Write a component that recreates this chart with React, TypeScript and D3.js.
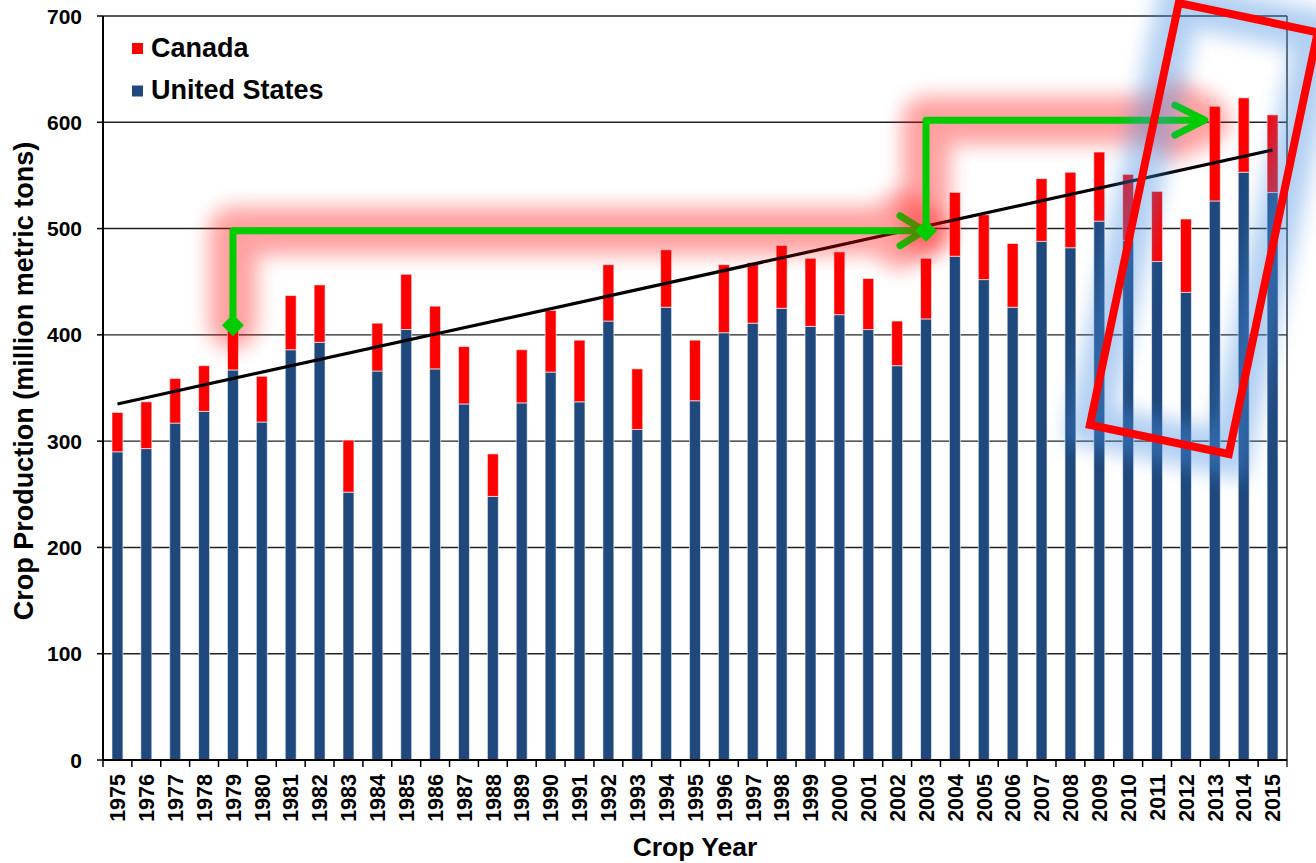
import React from 'react';
import * as d3 from 'd3';

const years = [
  1975, 1976, 1977, 1978, 1979, 1980, 1981, 1982, 1983, 1984,
  1985, 1986, 1987, 1988, 1989, 1990, 1991, 1992, 1993, 1994,
  1995, 1996, 1997, 1998, 1999, 2000, 2001, 2002, 2003, 2004,
  2005, 2006, 2007, 2008, 2009, 2010, 2011, 2012, 2013, 2014, 2015,
];

const usProduction = [
  290, 293, 317, 328, 367, 318, 386, 393, 252, 366,
  405, 368, 335, 248, 336, 365, 337, 413, 311, 426,
  338, 402, 411, 425, 408, 419, 405, 371, 415, 474,
  452, 426, 488, 482, 507, 489, 469, 440, 526, 553, 534,
];

const canadaProduction = [
  37, 44, 42, 43, 42, 43, 51, 54, 49, 45,
  52, 59, 54, 40, 50, 58, 58, 53, 57, 54,
  57, 64, 57, 59, 64, 59, 48, 42, 57, 60,
  61, 60, 59, 71, 65, 62, 66, 69, 89, 70, 73,
];

const yTicks = [0, 100, 200, 300, 400, 500, 600, 700];

// trend line value at first and last year
const trendValues = [335, 574];

// annotation connectors: start at a year/value, rise to a level, run to a target year
const connectors = [
  { fromYear: 1979, fromValue: 409, level: 498, toYear: 2003, tipOffset: -2, armX: 24, armY: 15 },
  { fromYear: 2003, fromValue: 498, level: 602, toYear: 2013, tipOffset: -10, armX: 30, armY: 15 },
];

const seriesNames = ['Canada', 'United States'];

const W = 1316;
const H = 863;
const FONT = "Arial, 'Liberation Sans', Helvetica, sans-serif";
const US_COLOR = '#1F497D';
const CA_COLOR = '#FF0000';
const GREEN = '#00CC00';

export default function App() {
  const x = d3
    .scaleBand<string>()
    .domain(years.map(String))
    .range([103, 1287])
    .paddingInner(0.62)
    .paddingOuter(0.31);
  const y = d3.scaleLinear().domain([0, 700]).range([760, 16]);
  const cx = (yr: number) => (x(String(yr)) as number) + x.bandwidth() / 2;
  const step = x.step();

  const left = 103;
  const right = 1287;

  const diamond = (px: number, py: number, r: number) =>
    `M${px},${py - r}L${px + r},${py}L${px},${py + r}L${px - r},${py}Z`;

  const connectorShapes = connectors.map((c) => {
    const x0 = cx(c.fromYear);
    const y0 = y(c.fromValue);
    const yl = y(c.level);
    const xt = cx(c.toYear) + c.tipOffset;
    const line = d3.path();
    line.moveTo(x0, y0);
    line.lineTo(x0, yl);
    line.lineTo(xt, yl);
    const arrow = `M${xt - c.armX},${yl - c.armY}L${xt},${yl}L${xt - c.armX},${yl + c.armY}`;
    return { line: line.toString(), arrow, dia: diamond(x0, y0, 11) };
  });

  // highlight rectangle around recent years
  const rcx = cx(2013) - 11;
  const rcy = y(500);
  const rw = 142;
  const rh = 431;
  const rAngle = 11.9;

  return (
    <svg
      width={W}
      height={H}
      style={{ position: 'absolute', left: 0, top: 0, background: '#fff' }}
      fontFamily={FONT}
    >
      <defs>
        <filter id="blurGlow" filterUnits="userSpaceOnUse" x={-100} y={-100} width={W + 200} height={H + 200}>
          <feGaussianBlur stdDeviation={10} />
        </filter>
      </defs>
      <rect x={0} y={0} width={W} height={H} fill="#fff" />

      {/* gridlines */}
      {yTicks.filter((t) => t > 0).map((t) => (
        <line key={t} x1={left} x2={right} y1={y(t)} y2={y(t)} stroke="#222" strokeWidth={1.4} />
      ))}
      {/* right border */}
      <line x1={right} x2={right} y1={y(700)} y2={767} stroke="#222" strokeWidth={1.4} />

      {/* bars */}
      {years.map((yr, i) => {
        const xb = x(String(yr)) as number;
        const us = usProduction[i];
        const tot = us + canadaProduction[i];
        return (
          <g key={yr}>
            <rect
              x={xb}
              y={y(us)}
              width={x.bandwidth()}
              height={y(0) - y(us)}
              fill={US_COLOR}
              stroke="#fff"
              strokeOpacity={0.6}
              strokeWidth={1}
            />
            <rect
              x={xb}
              y={y(tot)}
              width={x.bandwidth()}
              height={y(us) - y(tot)}
              fill={CA_COLOR}
              stroke="#fff"
              strokeOpacity={0.6}
              strokeWidth={1}
            />
          </g>
        );
      })}

      {/* axes */}
      <line x1={left} x2={left} y1={y(700)} y2={y(0)} stroke="#000" strokeWidth={2} />
      <line x1={left} x2={right} y1={y(0)} y2={y(0)} stroke="#000" strokeWidth={2} />
      {yTicks.map((t) => (
        <g key={t}>
          <line x1={97} x2={left} y1={y(t)} y2={y(t)} stroke="#000" strokeWidth={1.5} />
          <text
            x={82}
            y={y(t)}
            dy="0.36em"
            textAnchor="end"
            fontSize={21}
            fontWeight="bold"
          >
            {t}
          </text>
        </g>
      ))}
      {years.map((yr, i) => (
        <line
          key={'t' + yr}
          x1={left + i * step}
          x2={left + i * step}
          y1={y(0)}
          y2={767}
          stroke="#000"
          strokeWidth={1.5}
        />
      ))}
      {years.map((yr) => (
        <text
          key={'l' + yr}
          transform={`translate(${cx(yr)},774) rotate(-90)`}
          dy="0.36em"
          textAnchor="end"
          fontSize={21.5}
          fontWeight="bold"
        >
          {yr}
        </text>
      ))}

      {/* axis titles */}
      <text x={(left + right) / 2} y={856} textAnchor="middle" fontSize={26.5} fontWeight="bold">
        Crop Year
      </text>
      <text
        transform={`translate(33,381) rotate(-90)`}
        textAnchor="middle"
        fontSize={27}
        fontWeight="bold"
      >
        Crop Production (million metric tons)
      </text>

      {/* legend */}
      {seriesNames.map((name, i) => (
        <g key={name}>
          <rect x={132} y={43 + i * 42.5} width={11} height={11} fill={i === 0 ? CA_COLOR : US_COLOR} />
          <text x={151} y={57.3 + i * 42} fontSize={27} fontWeight="bold">
            {name}
          </text>
        </g>
      ))}

      {/* trend line */}
      <line
        x1={cx(years[0])}
        x2={cx(years[years.length - 1])}
        y1={y(trendValues[0])}
        y2={y(trendValues[1])}
        stroke="#000"
        strokeWidth={3.2}
      />

      {/* connectors */}
      {connectorShapes.map((c, i) => (
        <g key={'c' + i}>
          <g filter="url(#blurGlow)" opacity={0.37}>
            <path d={c.line} fill="none" stroke="#FF0000" strokeWidth={48} strokeLinecap="round" strokeLinejoin="round" />
            <path d={c.arrow} fill="none" stroke="#FF0000" strokeWidth={48} strokeLinecap="round" strokeLinejoin="round" />
          </g>
          <path d={c.line} fill="none" stroke={GREEN} strokeWidth={7} strokeLinejoin="round" />
          <path d={c.arrow} fill="none" stroke={GREEN} strokeWidth={7} strokeLinecap="round" strokeLinejoin="round" />
          <path d={c.dia} fill={GREEN} />
        </g>
      ))}

      {/* highlight rectangle */}
      <g filter="url(#blurGlow)" opacity={0.42}>
        <g transform={`translate(${rcx},${rcy}) rotate(${rAngle})`}>
          <rect
            x={-rw / 2}
            y={-rh / 2}
            width={rw}
            height={rh}
            fill="none"
            stroke="#4A90E2"
            strokeWidth={44}
          />
        </g>
      </g>
      <g transform={`translate(${rcx},${rcy}) rotate(${rAngle})`}>
        <rect
          x={-rw / 2}
          y={-rh / 2}
          width={rw}
          height={rh}
          fill="none"
          stroke="#FF0000"
          strokeWidth={8}
        />
      </g>
    </svg>
  );
}
